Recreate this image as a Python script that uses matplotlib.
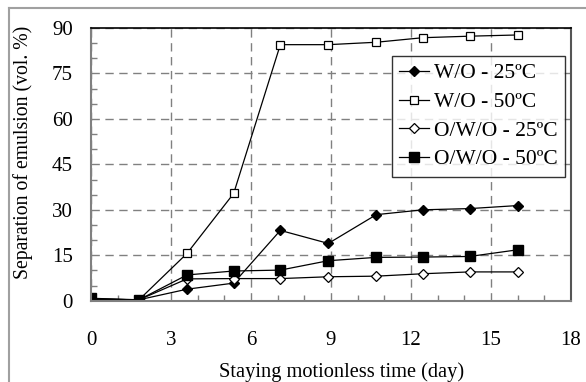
import numpy as np
import matplotlib
matplotlib.use("Agg")
import matplotlib.pyplot as plt
from matplotlib.ticker import MultipleLocator
from matplotlib.lines import Line2D

days = [0, 1.8, 3.6, 5.35, 7.1, 8.9, 10.7, 12.45, 14.2, 16.0]
wo_25 = [0.5, 0.3, 3.8, 5.8, 23.2, 18.9, 28.4, 30.0, 30.4, 31.4]
wo_50 = [0.5, 0.3, 15.6, 35.4, 84.5, 84.5, 85.3, 86.8, 87.3, 87.7]
owo_25 = [0.5, 0.3, 7.2, 7.3, 7.3, 7.9, 8.1, 8.9, 9.5, 9.5]
owo_50 = [0.8, 0.3, 8.5, 9.8, 10.1, 13.2, 14.3, 14.4, 14.6, 16.8]
labels = ["W/O - 25ºC", "W/O - 50ºC", "O/W/O - 25ºC", "O/W/O - 50ºC"]

plt.rcParams['font.family'] = ['Liberation Serif', 'DejaVu Serif']

fig = plt.figure(figsize=(5.86, 3.82), dpi=100)
ax = fig.add_axes([91 / 586, 1 - 300.7 / 382, 480 / 586, 272.7 / 382])

ax.plot(days, wo_25, '-', color='black', lw=0.9, marker='D', ms=5,
        mfc='black', mec='black', label=labels[0])
ax.plot(days, wo_50, '-', color='black', lw=0.9, marker='s', ms=5.8,
        mfc='white', mec='black', mew=0.9, label=labels[1])
ax.plot(days, owo_25, '-', color='black', lw=0.9, marker='D', ms=5,
        mfc='white', mec='black', mew=0.9, label=labels[2])
ax.plot(days, owo_50, '-', color='black', lw=0.9, marker='s', ms=6.5,
        mfc='black', mec='black', label=labels[3])

ax.set_xlim(0, 18)
ax.set_ylim(0, 90)
ax.xaxis.set_major_locator(MultipleLocator(3))
ax.xaxis.set_minor_locator(MultipleLocator(1))
ax.yaxis.set_major_locator(MultipleLocator(15))
ax.yaxis.set_minor_locator(MultipleLocator(5))
ax.tick_params(which='both', direction='in', colors='#808080', labelcolor='black',
               labelsize=15, top=False, right=False)
ax.tick_params(which='major', length=0)
ax.tick_params(which='minor', length=4, width=1)
ax.tick_params(axis='y', pad=13)
ax.tick_params(axis='x', pad=22)

ax.grid(True, which='major', color='#808080', ls=(0, (6, 4)), lw=1)
ax.set_axisbelow(True)

for side in ['left', 'bottom']:
    ax.spines[side].set_color('#808080')
    ax.spines[side].set_linewidth(1.5)
ax.spines['top'].set_color('black')
ax.spines['top'].set_linewidth(1.2)
ax.spines['right'].set_color('#555555')
ax.spines['right'].set_linewidth(1.5)

ax.set_xlabel("Staying motionless time (day)", fontsize=14.7)
ax.set_ylabel("Separation of emulsion (vol. %)", fontsize=14.2)
ax.xaxis.set_label_coords(0.521, -0.225)
ax.yaxis.set_label_coords(-0.121, 0.545)

leg = ax.legend(loc='upper right', bbox_to_anchor=(0.9875, 0.898), fontsize=15.5,
                frameon=True, fancybox=False, handlelength=1.4, handletextpad=0.2,
                borderpad=0.35, labelspacing=0.4, borderaxespad=0)
leg.get_frame().set_edgecolor('black')
leg.get_frame().set_linewidth(1.0)

# gray outer frame
fig.add_artist(Line2D([9 / 586, 9 / 586], [0, 1 - 8 / 382], color='#a0a0a0', lw=1.5))
fig.add_artist(Line2D([9 / 586, 1], [1 - 8 / 382, 1 - 8 / 382], color='#a0a0a0', lw=1.5))

fig.savefig("out.png", dpi=100)
